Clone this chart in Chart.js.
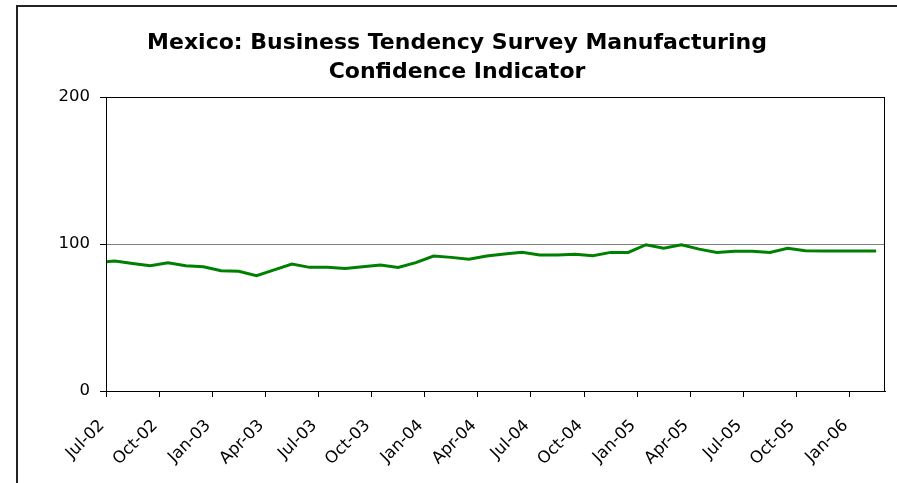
<!DOCTYPE html>
<html>
<head>
<meta charset="utf-8">
<script src="https://cdn.jsdelivr.net/npm/chart.js@4.4.0/dist/chart.umd.min.js"></script>
<style>
  html, body { margin: 0; padding: 0; background: #fff; }
  #wrap { position: relative; width: 897px; height: 483px; }
</style>
</head>
<body>
<div id="wrap"><canvas id="chart" width="897" height="483"></canvas></div>
<script>
const titleLines = ['Mexico: Business Tendency Survey Manufacturing', 'Confidence Indicator'];

// monthly readings, plotted at mid-month (Jun-02 falls just left of the axis and is clipped)
const months = [
  'Jun-02', 'Jul-02', 'Aug-02', 'Sep-02', 'Oct-02', 'Nov-02', 'Dec-02',
  'Jan-03', 'Feb-03', 'Mar-03', 'Apr-03', 'May-03', 'Jun-03', 'Jul-03', 'Aug-03', 'Sep-03', 'Oct-03', 'Nov-03', 'Dec-03',
  'Jan-04', 'Feb-04', 'Mar-04', 'Apr-04', 'May-04', 'Jun-04', 'Jul-04', 'Aug-04', 'Sep-04', 'Oct-04', 'Nov-04', 'Dec-04',
  'Jan-05', 'Feb-05', 'Mar-05', 'Apr-05', 'May-05', 'Jun-05', 'Jul-05', 'Aug-05', 'Sep-05', 'Oct-05', 'Nov-05', 'Dec-05',
  'Jan-06', 'Feb-06'
];
const values = [
  87.5, 88.4, 86.8, 85.2, 87.3, 85.2, 84.5,
  81.8, 81.4, 78.4, 82.4, 86.4, 84.1, 84.1, 83.4, 84.5, 85.7, 84.1, 87.3,
  91.8, 90.9, 89.6, 91.8, 93.2, 94.3, 92.5, 92.5, 93.0, 92.0, 94.3, 94.3,
  99.5, 97.1, 99.5, 96.5, 94.3, 95.1, 95.0, 94.2, 97.1, 95.4, 95.2, 95.2,
  95.2, 95.2
];
const tickLabels = [
  'Jul-02', 'Oct-02', 'Jan-03', 'Apr-03', 'Jul-03', 'Oct-03', 'Jan-04', 'Apr-04',
  'Jul-04', 'Oct-04', 'Jan-05', 'Apr-05', 'Jul-05', 'Oct-05', 'Jan-06'
];
const yTicks = [0, 100, 200];

// x unit = one month, 0 = start of Jul-02
const monthStart = label => months.indexOf(label) - 1;
const points = values.map((v, i) => ({ x: i - 0.5, y: v }));

const tickFont = { family: 'DejaVu Sans', size: 16.5 };

const framePlugin = {
  id: 'frame',
  beforeDraw(chart) {
    const ctx = chart.ctx;
    ctx.save();
    ctx.fillStyle = '#fff';
    ctx.fillRect(0, 0, chart.width, chart.height);
    ctx.restore();
  },
  afterDraw(chart) {
    const { ctx, chartArea: a } = chart;
    ctx.save();
    // plot area box
    ctx.strokeStyle = '#000';
    ctx.lineWidth = 1;
    ctx.strokeRect(Math.round(a.left) + 0.5, Math.round(a.top) + 0.5, Math.round(a.right - a.left) - 1, Math.round(a.bottom - a.top));
    // chart border (right and bottom edges fall outside the picture)
    ctx.strokeStyle = '#222';
    ctx.lineWidth = 2;
    ctx.strokeRect(17, 6, 900, 500);
    // title
    ctx.fillStyle = '#000';
    ctx.font = 'bold 22px "DejaVu Sans"';
    ctx.textAlign = 'center';
    ctx.textBaseline = 'alphabetic';
    titleLines.forEach((t, i) => ctx.fillText(t, 457, 49 + i * 29));
    ctx.restore();
  }
};

new Chart(document.getElementById('chart'), {
  type: 'line',
  data: {
    datasets: [{
      data: points,
      borderColor: '#008000',
      borderWidth: 3,
      pointRadius: 0,
      tension: 0,
      fill: false,
      clip: 0
    }]
  },
  options: {
    responsive: false,
    animation: false,
    layout: { padding: { top: 97, right: 12, left: 0, bottom: 0 } },
    plugins: {
      legend: { display: false },
      title: { display: false },
      tooltip: { enabled: false }
    },
    scales: {
      x: {
        type: 'linear',
        min: 0,
        max: months.length - 1,
        afterBuildTicks: axis => { axis.ticks = tickLabels.map(l => ({ value: monthStart(l) })); },
        afterFit: axis => { axis.height = 92; },
        ticks: {
          autoSkip: false,
          minRotation: 45,
          maxRotation: 45,
          padding: 19,
          labelOffset: -4,
          color: '#000',
          font: tickFont,
          callback: v => tickLabels.find(l => monthStart(l) === v)
        },
        grid: { drawOnChartArea: false, tickLength: 6, tickColor: '#000', color: '#000' },
        border: { color: '#000', width: 1 }
      },
      y: {
        min: yTicks[0],
        max: yTicks[yTicks.length - 1],
        afterBuildTicks: axis => { axis.ticks = yTicks.map(v => ({ value: v })); },
        afterFit: axis => { axis.width = 106; },
        ticks: { padding: 10, color: '#000', font: tickFont },
        grid: {
          color: c => (c.tick && c.tick.value === 100 ? '#808080' : 'rgba(0,0,0,0)'),
          tickColor: '#000',
          tickLength: 6,
          lineWidth: 1
        },
        border: { color: '#000', width: 1 }
      }
    }
  },
  plugins: [framePlugin]
});
</script>
</body>
</html>
